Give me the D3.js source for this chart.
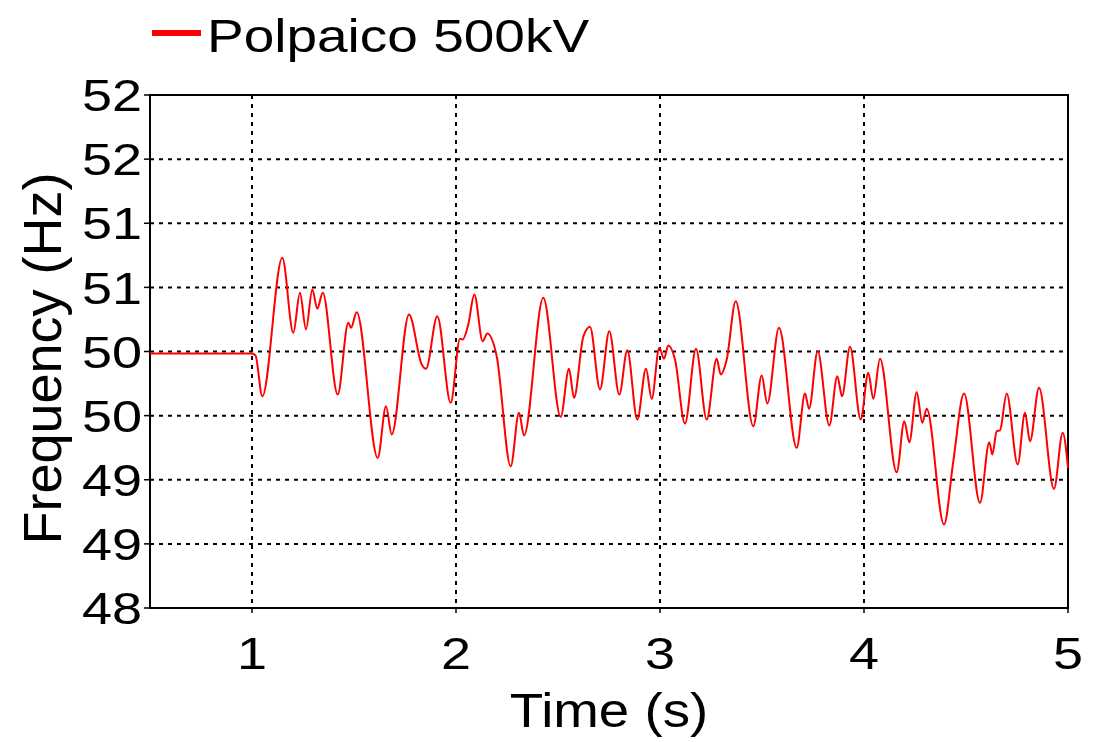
<!DOCTYPE html>
<html>
<head>
<meta charset="utf-8">
<script src="https://cdn.jsdelivr.net/npm/d3@7"></script>
<style>
  body { margin: 0; background: #fff; }
  svg { display: block; font-family: "Liberation Sans", Arial, sans-serif; }
</style>
</head>
<body>
<script>
// data
const seriesName = "Polpaico 500kV";
const timeValues = [0.5, 1.0, 1.017, 1.0505, 1.1485, 1.2025, 1.235, 1.2647, 1.2956, 1.3201, 1.3466,
  1.4201, 1.4721, 1.4853, 1.5132, 1.6162, 1.6569, 1.6848, 1.7696, 1.8319, 1.8529, 1.9083, 1.974,
  2.0196, 2.0328, 2.0603, 2.0897, 2.1309, 2.1534, 2.1995, 2.2681, 2.3088, 2.3333, 2.4279, 2.5132,
  2.5539, 2.5784, 2.624, 2.6569, 2.7059, 2.7515, 2.8005, 2.8397, 2.8887, 2.9314, 2.9593, 2.9966,
  3.0196, 3.0407, 3.0735, 3.1225, 3.1765, 3.2289, 3.2779, 3.2975, 3.327, 3.3711, 3.4574, 3.4985,
  3.526, 3.5833, 3.6701, 3.7108, 3.7304, 3.773, 3.8299, 3.8691, 3.8922, 3.9314, 3.9838, 4.0211,
  4.0456, 4.0784, 4.1603, 4.1975, 4.2221, 4.2583, 4.2858, 4.3074, 4.3922, 4.4377, 4.4902, 4.5686,
  4.6142, 4.6289, 4.6505, 4.6667, 4.6995, 4.7534, 4.7892, 4.8137, 4.8578, 4.9314, 4.974, 5.0];
const freqValues = [49.985, 49.985, 49.97, 49.651, 50.731, 50.146, 50.458, 50.172, 50.484, 50.333, 50.458,
  49.665, 50.224, 50.185, 50.307, 49.171, 49.573, 49.353, 50.289, 49.899, 49.865, 50.275, 49.6,
  50.099, 50.094, 50.211, 50.445, 50.08, 50.14, 49.963, 49.105, 49.522, 49.345, 50.419, 49.491,
  49.865, 49.639, 50.115, 50.193, 49.704, 50.158, 49.665, 50.01, 49.47, 49.865, 49.631, 50.029,
  49.943, 50.047, 49.938, 49.438, 50.021, 49.47, 49.943, 49.821, 49.938, 50.392, 49.417, 49.813,
  49.594, 50.185, 49.249, 49.672, 49.553, 50.002, 49.423, 49.807, 49.651, 50.037, 49.47, 49.834,
  49.631, 49.943, 49.058, 49.456, 49.293, 49.683, 49.444, 49.553, 48.651, 49.144, 49.672, 48.82,
  49.293, 49.197, 49.378, 49.386, 49.672, 49.119, 49.522, 49.3, 49.717, 48.929, 49.366, 49.093];
const xTicks = [1, 2, 3, 4, 5];
const yTicks = [48, 48.5, 49, 49.5, 50, 50.5, 51, 51.5, 52];
const yTickLabels = ["48", "49", "49", "50", "50", "51", "51", "52", "52"];

const width = 1102, height = 742;
const margin = {top: 95, right: 34, bottom: 134, left: 150};

const x = d3.scaleLinear().domain([0.5, 5]).range([margin.left, width - margin.right]);
const y = d3.scaleLinear().domain([48, 52]).range([height - margin.bottom, margin.top]);

const svg = d3.select("body").append("svg")
    .attr("width", width)
    .attr("height", height);

// grid
svg.append("g").selectAll("line")
    .data(yTicks.slice(1, -1))
    .join("line")
    .attr("x1", x(0.5)).attr("x2", x(5))
    .attr("y1", d => y(d)).attr("y2", d => y(d))
    .attr("stroke", "#000").attr("stroke-width", 2).attr("stroke-dasharray", "4,5");

svg.append("g").selectAll("line")
    .data(xTicks.slice(0, -1))
    .join("line")
    .attr("x1", d => x(d)).attr("x2", d => x(d))
    .attr("y1", y(52)).attr("y2", y(48))
    .attr("stroke", "#000").attr("stroke-width", 2).attr("stroke-dasharray", "4,5");

// frame + ticks
svg.append("rect")
    .attr("x", x(0.5)).attr("y", y(52))
    .attr("width", x(5) - x(0.5)).attr("height", y(48) - y(52))
    .attr("fill", "none").attr("stroke", "#000").attr("stroke-width", 2);

svg.append("g").selectAll("line")
    .data(yTicks)
    .join("line")
    .attr("x1", x(0.5) - 6).attr("x2", x(0.5))
    .attr("y1", d => y(d)).attr("y2", d => y(d))
    .attr("stroke", "#000").attr("stroke-width", 1.5);

svg.append("g").selectAll("line")
    .data(xTicks)
    .join("line")
    .attr("x1", d => x(d)).attr("x2", d => x(d))
    .attr("y1", y(48)).attr("y2", y(48) + 5)
    .attr("stroke", "#000").attr("stroke-width", 1.5);

// tick labels (the reference text is a little wide)
svg.append("g").selectAll("text")
    .data(yTicks)
    .join("text")
    .attr("transform", d => `translate(${x(0.5) - 8},${y(d)}) scale(1.2,1)`)
    .attr("text-anchor", "end")
    .attr("dy", "0.36em")
    .attr("font-size", 45)
    .text((d, i) => yTickLabels[i]);

svg.append("g").selectAll("text")
    .data(xTicks)
    .join("text")
    .attr("transform", d => `translate(${x(d)},669) scale(1.2,1)`)
    .attr("text-anchor", "middle")
    .attr("font-size", 45)
    .text(d => d);

// axis titles
svg.append("text")
    .attr("transform", `translate(${(x(0.5) + x(5)) / 2},727) scale(1.14,1)`)
    .attr("text-anchor", "middle")
    .attr("font-size", 48)
    .text("Time (s)");

svg.append("text")
    .attr("transform", `translate(61,${(y(48) + y(52)) / 2 + 7}) rotate(-90)`)
    .attr("text-anchor", "middle")
    .attr("font-size", 54)
    .text("Frequency (Hz)");

// series
const data = timeValues.map((t, i) => ({t: t, f: freqValues[i]}));
const line = d3.line()
    .x(d => x(d.t))
    .y(d => y(d.f))
    .curve(d3.curveMonotoneX);

svg.append("path")
    .datum(data)
    .attr("d", line)
    .attr("fill", "none")
    .attr("stroke", "#ff0000")
    .attr("stroke-width", 2);

// legend
svg.append("line")
    .attr("x1", 152).attr("x2", 201)
    .attr("y1", 33).attr("y2", 33)
    .attr("stroke", "#ff0000").attr("stroke-width", 6);

svg.append("text")
    .attr("transform", "translate(207,52) scale(1.17,1)")
    .attr("font-size", 47)
    .text(seriesName);
</script>
</body>
</html>
